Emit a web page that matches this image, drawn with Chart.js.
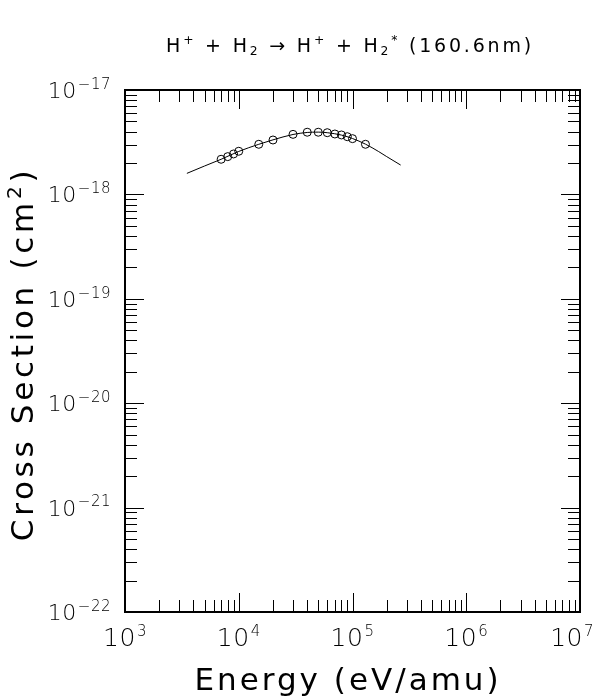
<!DOCTYPE html>
<html>
<head>
<meta charset="utf-8">
<script src="https://cdn.jsdelivr.net/npm/chart.js@4/dist/chart.umd.min.js"></script>
<style>
  html, body { margin: 0; padding: 0; background: #fff; }
  #cross-section-chart { display: block; }
</style>
</head>
<body>
<canvas id="cross-section-chart" width="598" height="696"></canvas>
<script>
// measured points (circles)
const energy = [7e3, 8e3, 9e3, 1e4, 1.5e4, 2e4, 3e4, 4e4, 5e4, 6e4, 7e4, 8e4, 9e4, 1e5, 1.3e5];
const sigma = [2.17e-18, 2.30e-18, 2.44e-18, 2.59e-18, 3.02e-18, 3.32e-18, 3.76e-18, 3.94e-18,
               3.94e-18, 3.90e-18, 3.79e-18, 3.71e-18, 3.57e-18, 3.42e-18, 3.02e-18];

// fitted curve
const fitEnergy = [3.5e3, 5e3, 7e3, 1e4, 1.5e4, 2e4, 3e4, 4e4, 5e4, 6e4, 8e4, 1e5, 1.3e5, 1.7e5, 2e5, 2.65e5];
const fitSigma = [1.59e-18, 1.87e-18, 2.17e-18, 2.58e-18, 3.02e-18, 3.33e-18, 3.75e-18, 3.92e-18,
                  3.95e-18, 3.90e-18, 3.70e-18, 3.43e-18, 3.03e-18, 2.57e-18, 2.30e-18, 1.91e-18];

// decade tick labels (exponents of 10)
const xTickExps = [3, 4, 5, 6, 7];
const yTickExps = [-22, -21, -20, -19, -18, -17];

const LIGHT = '"DejaVu Sans Light", "DejaVu Sans", sans-serif';
const BOOK = '"DejaVu Sans", sans-serif';

// draw a run of text pieces: {t, s: 'n'|'sup'|'sub'}
function drawRich(ctx, pieces, x, y, size, spacing, align, font) {
  const small = size * 0.65;
  const widths = pieces.map(p => {
    ctx.font = (p.s === 'n' ? size : small) + 'px ' + font;
    ctx.letterSpacing = spacing + 'px';
    return ctx.measureText(p.t).width;
  });
  const total = widths.reduce((a, b) => a + b, 0);
  let cx = align === 'center' ? x - total / 2 : (align === 'right' ? x - total : x);
  pieces.forEach((p, i) => {
    ctx.font = (p.s === 'n' ? size : small) + 'px ' + font;
    ctx.letterSpacing = spacing + 'px';
    let dy = 0;
    if (p.s === 'sup') dy = -size * 0.4;
    if (p.s === 'sub') dy = size * 0.15;
    ctx.fillText(p.t, cx, y + dy);
    cx += widths[i];
  });
}

// "10" with exponent
function drawPow(ctx, exp, x, y, baseSize, expSize, align, maxRight) {
  ctx.letterSpacing = '0.5px';
  ctx.font = baseSize + 'px ' + LIGHT;
  const wb = ctx.measureText('10').width + 1;
  ctx.font = expSize + 'px ' + LIGHT;
  const txt = exp < 0 ? '\u2212' + Math.abs(exp) : String(exp);
  const we = ctx.measureText(txt).width;
  const total = wb + we;
  let left = align === 'center' ? x - total / 2 : x - total;
  if (maxRight && left + total > maxRight) left = maxRight - total;
  ctx.font = baseSize + 'px ' + LIGHT;
  ctx.fillText('10', left, y);
  ctx.font = expSize + 'px ' + LIGHT;
  ctx.fillText(txt, left + wb, y - baseSize * 0.42);
}

const framePlugin = {
  id: 'frame',
  afterDraw(chart) {
    const ctx = chart.ctx;
    const a = chart.chartArea;
    const xs = chart.scales.x;
    const ys = chart.scales.y;
    ctx.save();
    ctx.fillStyle = '#000';
    ctx.strokeStyle = '#000';
    ctx.textAlign = 'left';
    ctx.textBaseline = 'alphabetic';

    // ticks, inward on all four sides
    ctx.lineWidth = 1;
    ctx.beginPath();
    for (let d = xTickExps[0]; d <= xTickExps[xTickExps.length - 1]; d++) {
      for (let m = 1; m <= 9; m++) {
        if (d === xTickExps[xTickExps.length - 1] && m > 1) break;
        const px = Math.round(xs.getPixelForValue(m * Math.pow(10, d))) + 0.5;
        const len = m === 1 ? 19 : 12;
        ctx.moveTo(px, a.bottom); ctx.lineTo(px, a.bottom - len);
        ctx.moveTo(px, a.top); ctx.lineTo(px, a.top + len);
      }
    }
    for (let d = yTickExps[0]; d <= yTickExps[yTickExps.length - 1]; d++) {
      for (let m = 1; m <= 9; m++) {
        if (d === yTickExps[yTickExps.length - 1] && m > 1) break;
        const py = Math.round(ys.getPixelForValue(m * Math.pow(10, d))) + 0.5;
        const len = m === 1 ? 19 : 12;
        ctx.moveTo(a.left, py); ctx.lineTo(a.left + len, py);
        ctx.moveTo(a.right, py); ctx.lineTo(a.right - len, py);
      }
    }
    ctx.stroke();

    // frame
    ctx.lineWidth = 2;
    ctx.strokeRect(a.left, a.top, a.right - a.left, a.bottom - a.top);

    // tick labels
    xTickExps.forEach(e => {
      const px = xs.getPixelForValue(Math.pow(10, e));
      drawPow(ctx, e, px, a.bottom + 34, 25, 15, 'center', 594);
    });
    yTickExps.forEach(e => {
      const py = ys.getPixelForValue(Math.pow(10, e));
      drawPow(ctx, e, 111, py + 8, 22, 15, 'right');
    });

    // title
    drawRich(ctx, [
      { t: 'H', s: 'n' }, { t: '+', s: 'sup' }, { t: ' + H', s: 'n' }, { t: '2', s: 'sub' },
      { t: ' \u2192 H', s: 'n' }, { t: '+', s: 'sup' }, { t: ' + H', s: 'n' }, { t: '2', s: 'sub' },
      { t: '*', s: 'sup' }, { t: ' (160.6nm)', s: 'n' }
    ], 350, 52, 19, 2.8, 'center', BOOK);

    // x axis title
    ctx.font = '31px ' + BOOK;
    ctx.letterSpacing = '3px';
    ctx.textAlign = 'center';
    ctx.fillText('Energy (eV/amu)', 348, 690);

    // y axis title
    ctx.save();
    ctx.translate(33, 354);
    ctx.rotate(-Math.PI / 2);
    ctx.textAlign = 'left';
    drawRich(ctx, [
      { t: 'Cross Section (cm', s: 'n' }, { t: '2', s: 'sup' }, { t: ')', s: 'n' }
    ], 0, 0, 31, 3.7, 'center', BOOK);
    ctx.restore();

    ctx.restore();
  }
};

const ctx = document.getElementById('cross-section-chart');

new Chart(ctx, {
  type: 'line',
  data: {
    datasets: [{
      label: 'fit',
      data: fitEnergy.map((e, i) => ({ x: e, y: fitSigma[i] })),
      borderColor: '#000',
      borderWidth: 1,
      pointRadius: 0,
      fill: false,
      cubicInterpolationMode: 'monotone',
    },
    {
      label: 'data',
      data: energy.map((e, i) => ({ x: e, y: sigma[i] })),
      showLine: false,
      borderColor: '#000',
      backgroundColor: 'rgba(0,0,0,0)',
      pointStyle: 'circle',
      pointRadius: 4,
      pointBorderWidth: 1,
    }]
  },
  options: {
    responsive: false,
    animation: false,
    layout: {
      padding: { left: 125, top: 90, right: 18, bottom: 84 }
    },
    scales: {
      x: { type: 'logarithmic', min: 1e3, max: 1e7, display: false },
      y: { type: 'logarithmic', min: 1e-22, max: 1e-17, display: false }
    },
    plugins: {
      legend: { display: false },
      tooltip: { enabled: false }
    }
  },
  plugins: [framePlugin]
});
</script>
</body>
</html>
